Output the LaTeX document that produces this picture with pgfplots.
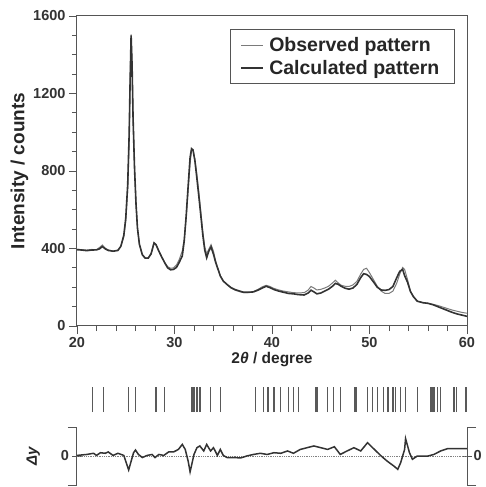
\documentclass[border=0pt]{standalone}
\usepackage{fontspec}
\setmainfont{Liberation Sans}
\usepackage{pgfplots}
\pgfplotsset{compat=1.18}
\usepackage{pgfplotstable}

\definecolor{frame}{HTML}{555555}
\definecolor{obscol}{HTML}{7A7A7A}
\definecolor{calccol}{HTML}{333333}

% observed pattern
\pgfplotstableread{
x y
20.0 396
20.5 394
21.0 392
21.5 395
22.0 394
22.3 405
22.6 418
22.9 402
23.2 393
23.7 387
24.2 392
24.5 410
24.8 460
25.0 540
25.2 700
25.35 950
25.45 1250
25.55 1505
25.65 1350
25.75 1080
25.9 820
26.05 640
26.2 510
26.4 420
26.7 366
27.0 350
27.3 352
27.6 375
27.9 432
28.1 422
28.4 385
28.7 355
29.0 328
29.3 306
29.6 298
29.9 300
30.2 315
30.5 345
30.8 388
31.0 450
31.2 560
31.4 700
31.6 840
31.75 905
31.9 910
32.1 860
32.3 780
32.5 690
32.7 590
32.9 490
33.1 410
33.3 372
33.5 395
33.75 420
34.0 385
34.2 340
34.4 306
34.7 260
35.0 232
35.4 212
35.8 196
36.2 185
36.7 177
37.1 172
37.6 173
38.1 178
38.6 190
39.0 202
39.4 210
39.8 204
40.2 194
40.7 186
41.2 180
41.7 176
42.2 172
42.7 171
43.3 172
43.7 185
44.0 204
44.3 196
44.6 186
45.0 189
45.4 196
45.8 205
46.2 222
46.5 236
46.8 222
47.1 210
47.5 205
47.9 204
48.3 212
48.7 230
49.1 268
49.4 292
49.7 298
50.0 275
50.4 240
50.8 205
51.2 180
51.6 168
52.0 168
52.4 180
52.8 222
53.1 268
53.4 302
53.6 292
53.9 240
54.2 180
54.5 150
54.9 128
55.5 120
56.0 117
56.5 112
57.0 106
57.5 98
58.0 90
58.5 82
59.0 76
59.5 70
60.0 66
}\obsdata

% calculated pattern
\pgfplotstableread{
x y
20.0 394
20.5 392
21.0 389
21.5 392
22.0 393
22.3 398
22.6 410
22.9 398
23.2 390
23.7 386
24.2 390
24.5 412
24.8 468
25.0 556
25.2 730
25.35 990
25.45 1270
25.55 1500
25.65 1345
25.75 1075
25.9 815
26.05 632
26.2 506
26.4 422
26.7 368
27.0 350
27.3 350
27.6 372
27.9 428
28.1 420
28.4 386
28.7 355
29.0 326
29.3 300
29.6 290
29.9 292
30.2 302
30.5 330
30.8 362
31.0 440
31.2 570
31.4 722
31.6 870
31.75 915
31.9 908
32.1 850
32.3 760
32.5 668
32.7 570
32.9 472
33.1 392
33.3 352
33.5 384
33.75 408
34.0 370
34.2 332
34.4 302
34.7 258
35.0 232
35.4 214
35.8 198
36.2 188
36.7 180
37.1 174
37.6 174
38.1 176
38.6 186
39.0 196
39.4 205
39.8 198
40.2 188
40.7 180
41.2 174
41.7 168
42.2 166
42.7 162
43.3 160
43.7 170
44.0 185
44.3 176
44.6 166
45.0 170
45.4 180
45.8 190
46.2 205
46.5 220
46.8 215
47.1 205
47.5 195
47.9 190
48.3 196
48.7 214
49.1 250
49.4 270
49.7 266
50.0 255
50.4 228
50.8 200
51.2 186
51.6 184
52.0 188
52.4 204
52.8 250
53.1 282
53.4 292
53.6 260
53.9 226
54.2 178
54.5 152
54.9 128
55.5 120
56.0 117
56.5 110
57.0 100
57.5 90
58.0 80
58.5 70
59.0 62
59.5 56
60.0 50
}\calcdata

% difference curve
\pgfplotstableread{
x y
20.0 3
21.0 8
21.7 14
22.0 3
22.4 17
22.9 14
23.2 21
23.7 3
24.2 14
24.8 3
25.3 -72
25.8 17
26.0 31
26.3 8
26.7 -8
27.2 3
27.7 8
28.0 -8
28.4 8
28.9 3
29.4 21
29.9 21
30.4 34
30.8 60
31.1 34
31.4 -26
31.6 -82
32.0 8
32.3 43
32.6 52
33.0 26
33.3 60
33.7 26
34.0 43
34.4 3
34.7 34
35.0 3
35.4 -8
36.1 -8
36.8 -10
37.4 0
38.1 8
38.8 14
39.5 8
40.2 17
40.9 14
41.6 26
42.2 14
42.9 34
43.6 43
44.3 52
45.0 43
45.7 34
46.4 48
47.0 8
47.7 26
48.4 43
49.1 26
49.8 69
50.5 34
51.2 0
51.8 -26
52.5 -52
52.9 -69
53.2 -34
53.6 34
53.7 90
54.1 17
54.4 -17
54.9 0
56.0 0
56.6 8
57.3 26
58.0 38
58.6 38
59.3 38
60.0 38
}\diffdata

% reflection positions
\pgfplotstableread{
x y
21.6 1
22.7 1
25.3 1
26.0 1
28.1 1
29.0 1
31.8 1
32.0 1
32.3 1
32.6 1
33.7 1
34.7 1
38.3 1
39.1 1
39.6 1
40.2 1
40.9 1
41.7 1
42.2 1
42.7 1
44.5 1
44.7 1
45.7 1
46.3 1
47.0 1
48.5 1
48.7 1
49.8 1
50.3 1
50.8 1
51.4 1
51.9 1
52.4 1
52.7 1
53.2 1
53.7 1
54.9 1
56.3 1
56.5 1
56.6 1
57.0 1
57.3 1
58.6 1
58.7 1
58.9 1
59.9 1
}\refldata

\begin{document}
\begin{tikzpicture}
\path[use as bounding box] (-77pt,-161pt) rectangle (409pt,326pt);

% main pattern
\begin{axis}[
    at={(0pt,0pt)}, anchor=south west,
    scale only axis,
    width=390pt, height=310pt,
    xmin=20, xmax=60, ymin=0, ymax=1600,
    xtick={20,30,...,60}, ytick={0,400,...,1600},
    minor x tick num=4, minor y tick num=3,
    tick align=outside,
    xtick pos=bottom, ytick pos=left,
    major tick length=8pt, minor tick length=5pt,
    axis line style={frame, line width=1pt},
    tick style={frame, line width=0.9pt},
    /pgf/number format/assume math mode=true,
    /pgf/number format/set thousands separator={},
    tick label style={font=\fontsize{14.5}{16}\selectfont\bfseries, text=black!80},
    xlabel={2\textit{θ} / degree},
    ylabel={Intensity / counts},
    xlabel style={font=\fontsize{15.5}{18}\selectfont\bfseries, text=black!85, yshift=2pt},
    ylabel style={font=\fontsize{19}{22}\selectfont\bfseries, text=black!85, yshift=-2pt},
    legend style={at={(0.969,0.958)}, anchor=north east, draw=frame, line width=1pt,
        font=\fontsize{19.5}{22}\selectfont\bfseries, text=black!85,
        inner xsep=10pt, inner ysep=7pt, row sep=5pt,
        nodes={inner xsep=5pt, inner ysep=1pt}},
    legend image code/.code={\draw[#1] (0pt,0pt) -- (22pt,0pt);},
    legend cell align=left,
]
\addplot[obscol, line width=1pt] table {\obsdata};
\addlegendentry{Observed pattern}
\addplot[calccol, line width=1.6pt] table {\calcdata};
\addlegendentry{Calculated pattern}
\end{axis}

% reflection markers
\begin{axis}[
    at={(0pt,-86pt)}, anchor=south west,
    scale only axis,
    width=390pt, height=25pt,
    xmin=20, xmax=60, ymin=0, ymax=1,
    hide axis,
]
\addplot[ycomb, black!65, line width=1.3pt, mark=none] table {\refldata};
\end{axis}

% difference curve
\begin{axis}[
    at={(0pt,-159pt)}, anchor=south west,
    scale only axis,
    width=390pt, height=58pt,
    xmin=20, xmax=60, ymin=-150, ymax=150,
    separate axis lines,
    x axis line style={draw=none},
    y axis line style={frame, line width=1pt},
    xtick=\empty,
    ytick={-150,150}, yticklabels={},
    tick align=outside,
    major tick length=9pt,
    tick style={frame, line width=1pt},
    extra y ticks={0},
    extra y tick labels={0},
    extra y tick style={tick align=center},
    /pgf/number format/assume math mode=true,
    tick label style={font=\fontsize{14.5}{16}\selectfont\bfseries, text=black!80},
    ylabel={\textit{Δy}},
    ylabel style={font=\fontsize{15}{18}\selectfont\bfseries, text=black!85, yshift=4pt},
    clip=false,
]
\addplot[black!50, densely dotted, line width=0.8pt] coordinates {(20,0) (60,0)};
\addplot[calccol, line width=1.5pt] table {\diffdata};
\node[anchor=west, font=\fontsize{14.5}{16}\selectfont\bfseries, text=black!80] at (rel axis cs:1,0.5) [xshift=3pt] {0};
\end{axis}
\end{tikzpicture}
\end{document}
